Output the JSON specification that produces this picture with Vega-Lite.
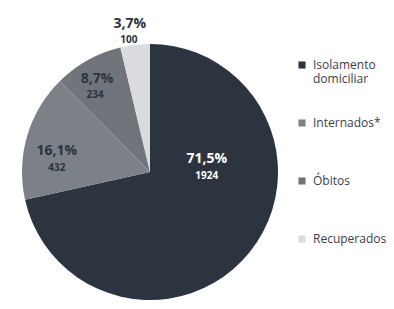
{
  "$schema": "https://vega.github.io/schema/vega-lite/v6.json",
  "width": 300,
  "height": 256,
  "autosize": {"type": "none"},
  "padding": {"left": 0, "top": 44, "right": 94, "bottom": 9},
  "background": "white",
  "config": {"view": {"stroke": null}, "font": "Open Sans"},
  "data": {"values": [
    {"categoria": "Isolamento domiciliar", "casos": 1924, "pct": "71,5%", "ordem": 1},
    {"categoria": "Internados*", "casos": 432, "pct": "16,1%", "ordem": 2},
    {"categoria": "Óbitos", "casos": 234, "pct": "8,7%", "ordem": 3},
    {"categoria": "Recuperados", "casos": 100, "pct": "3,7%", "ordem": 4}
  ]},
  "encoding": {
    "theta": {"field": "casos", "type": "quantitative", "stack": true},
    "order": {"field": "ordem", "type": "quantitative"}
  },
  "layer": [
    {
      "mark": {"type": "arc", "outerRadius": 128},
      "encoding": {
        "color": {
          "field": "categoria", "type": "nominal",
          "scale": {
            "domain": ["Isolamento domiciliar", "Internados*", "Óbitos", "Recuperados"],
            "range": ["#2c3440", "#7c8188", "#70757c", "#d9dbde"]
          },
          "legend": {
            "title": null,
            "orient": "none",
            "legendX": 296,
            "legendY": 15,
            "padding": 0,
            "symbolType": "square",
            "symbolSize": 50,
            "symbolStrokeWidth": 0,
            "labelFontSize": 12,
            "labelColor": "#3b4048",
            "labelFont": "Open Sans",
            "labelOffset": 5,
            "rowPadding": 32,
            "labelExpr": "datum.label == 'Isolamento domiciliar' ? ['Isolamento', 'domiciliar'] : [datum.label, ' ']"
          }
        }
      }
    },
    {
      "mark": {"type": "text", "radius": 60, "dx": 10, "dy": -51, "fontSize": 14, "fontWeight": "bold", "color": "white"},
      "encoding": {"text": {"condition": {"test": "datum.categoria === 'Isolamento domiciliar'", "field": "pct"}, "value": ""}}
    },
    {
      "mark": {"type": "text", "radius": 60, "dx": 10, "dy": -34, "fontSize": 10, "fontWeight": "bold", "color": "white"},
      "encoding": {"text": {"condition": {"test": "datum.categoria === 'Isolamento domiciliar'", "field": "casos"}, "value": ""}}
    },
    {
      "mark": {"type": "text", "radius": 95, "dx": -2, "dy": 6, "fontSize": 14, "fontWeight": "bold", "color": "#2c3440"},
      "encoding": {"text": {"condition": {"test": "datum.categoria === 'Internados*'", "field": "pct"}, "value": ""}}
    },
    {
      "mark": {"type": "text", "radius": 95, "dx": -2, "dy": 23, "fontSize": 10, "fontWeight": "bold", "color": "#2c3440"},
      "encoding": {"text": {"condition": {"test": "datum.categoria === 'Internados*'", "field": "casos"}, "value": ""}}
    },
    {
      "mark": {"type": "text", "radius": 105, "dx": -2, "dy": -1, "fontSize": 14, "fontWeight": "bold", "color": "#2c3440"},
      "encoding": {"text": {"condition": {"test": "datum.categoria === 'Óbitos'", "field": "pct"}, "value": ""}}
    },
    {
      "mark": {"type": "text", "radius": 105, "dx": -4, "dy": 15, "fontSize": 10, "fontWeight": "bold", "color": "#2c3440"},
      "encoding": {"text": {"condition": {"test": "datum.categoria === 'Óbitos'", "field": "casos"}, "value": ""}}
    },
    {
      "mark": {"type": "text", "radius": 147, "dx": -3, "dy": -2, "fontSize": 14, "fontWeight": "bold", "color": "#2c3440"},
      "encoding": {"text": {"condition": {"test": "datum.categoria === 'Recuperados'", "field": "pct"}, "value": ""}}
    },
    {
      "mark": {"type": "text", "radius": 147, "dx": -4, "dy": 14, "fontSize": 10, "fontWeight": "bold", "color": "#2c3440"},
      "encoding": {"text": {"condition": {"test": "datum.categoria === 'Recuperados'", "field": "casos"}, "value": ""}}
    }
  ]
}
